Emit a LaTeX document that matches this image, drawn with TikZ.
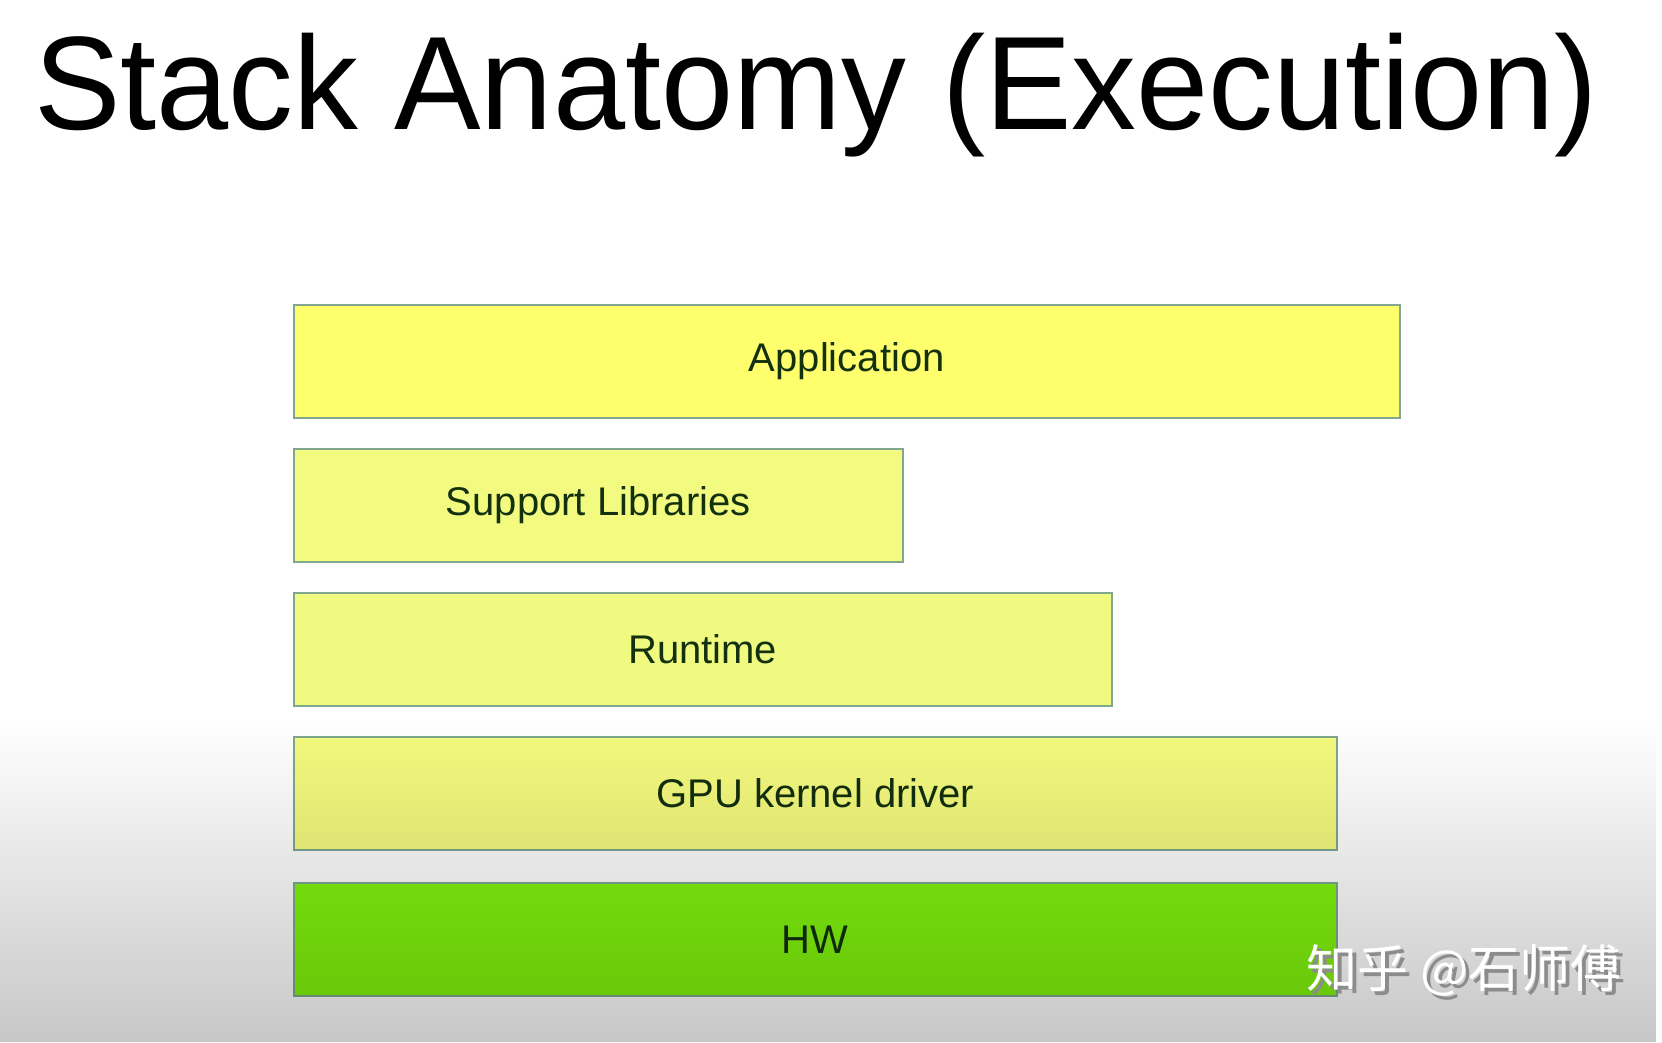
\documentclass[tikz,border=0pt]{standalone}
\usepackage{fontspec}
\setmainfont{Liberation Sans}
\newfontfamily\titlefont[FakeStretch=0.975]{Liberation Sans}
\newfontfamily\cjkfont{Noto Sans CJK SC}
\usetikzlibrary{fadings}
\definecolor{appfill}{HTML}{FFFF6E}
\definecolor{supfill}{HTML}{F2FB80}
\definecolor{runfill}{HTML}{F0FA80}
\definecolor{gpufill}{HTML}{F5FB7E}
\definecolor{hwfill}{HTML}{82F70E}
\definecolor{layerline}{HTML}{7FA88F}
\definecolor{layertext}{HTML}{13300F}
\definecolor{shadowgray}{HTML}{8C8C8C}
\tikzfading[name=fadebottom, top color=transparent!100, bottom color=transparent!0]
\tikzset{
  layer/.style={draw=layerline, line width=1.5pt, anchor=north west, inner sep=0pt,
    minimum height=113pt, text=layertext, font=\fontsize{40}{45}\selectfont},
  wmark/.style={font=\cjkfont\fontsize{51}{56}\selectfont},
}
\begin{document}
\begin{tikzpicture}[x=1pt, y=-1pt]
\useasboundingbox (0,0) rectangle (1662,1042);
\fill[white] (0,0) rectangle (1662,1042);
\node[anchor=base west, inner sep=0pt, font=\titlefont\fontsize{133}{150}\selectfont] (title) at (34,129) {Stack Anatomy (Execution)};
\node[layer, fill=appfill, minimum width=1106pt] (app) at (293,304) {Application};
\node[layer, fill=supfill, minimum width=609pt] (sup) at (293,448) {Support Libraries};
\node[layer, fill=runfill, minimum width=818pt] (run) at (293,592) {Runtime};
\node[layer, fill=gpufill, minimum width=1043pt] (gpu) at (293,736) {GPU kernel driver};
\node[layer, fill=hwfill, minimum width=1043pt] (hw) at (293,882) {HW};
\fill[black, fill opacity=0.22, path fading=fadebottom] (0,720) rectangle (1662,1042);
\node[wmark, text=shadowgray] (wmshadow) at (1468,974) {知乎 @石师傅};
\node[wmark, text=white] (wm) at (1464,970) {知乎 @石师傅};
\end{tikzpicture}
\end{document}
